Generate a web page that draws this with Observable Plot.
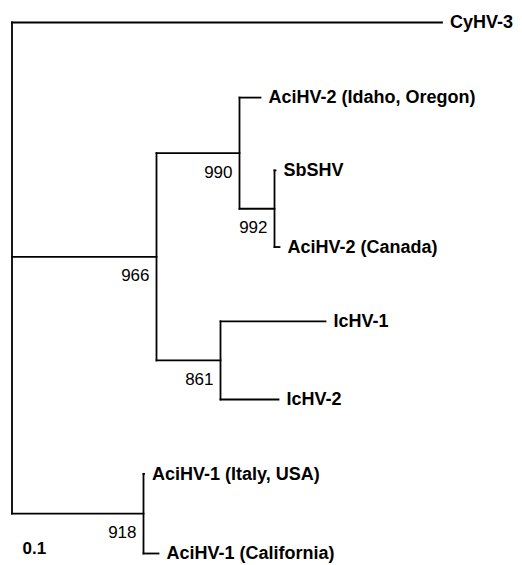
<!DOCTYPE html>
<html>
<head>
<meta charset="utf-8">
<script src="https://cdn.jsdelivr.net/npm/d3@7"></script>
<script src="https://cdn.jsdelivr.net/npm/@observablehq/plot@0.6"></script>
<style>
  html, body { margin: 0; padding: 0; background: #fff; }
  #chart svg { display: block; }
</style>
</head>
<body>
<div id="chart"></div>
<script>
// Tree nodes (internal nodes named by their support value)
const nodeNames = ["root", "CyHV-3", "n966", "n990", "AciHV-2 (Idaho, Oregon)", "n992", "SbSHV", "AciHV-2 (Canada)", "n861", "IcHV-1", "IcHV-2", "n918", "AciHV-1 (Italy, USA)", "AciHV-1 (California)"];
const parentNames = [null, "root", "root", "n966", "n990", "n990", "n992", "n992", "n966", "n861", "n861", "root", "n918", "n918"];
const branchLengths = [0, 0.860, 0.289, 0.166, 0.042, 0.070, 0.002, 0.010, 0.128, 0.210, 0.116, 0.263, 0.001, 0.030];
// leaf vertical positions (row units)
const leafNames = ["CyHV-3", "AciHV-2 (Idaho, Oregon)", "SbSHV", "AciHV-2 (Canada)", "IcHV-1", "IcHV-2", "AciHV-1 (Italy, USA)", "AciHV-1 (California)"];
const leafRows = [0, 0.99, 1.95, 2.96, 3.94, 4.97, 5.95, 7.0];
// bootstrap support
const supportNodes = ["n966", "n990", "n992", "n861", "n918"];
const supportValues = ["966", "990", "992", "861", "918"];
const scaleLabel = "0.1";

// build tree
const byName = new Map();
nodeNames.forEach((n, i) => byName.set(n, {name: n, parent: parentNames[i], len: branchLengths[i], children: []}));
byName.forEach(n => { if (n.parent) byName.get(n.parent).children.push(n); });
leafNames.forEach((n, i) => byName.get(n).row = leafRows[i]);
const root = byName.get("root");
(function setX(n, x) { n.x = x + n.len; n.children.forEach(c => setX(c, n.x)); })(root, 0);
(function setY(n) {
  if (n.children.length) {
    n.children.forEach(setY);
    const ys = n.children.map(c => c.row);
    n.minRow = d3.min(ys); n.maxRow = d3.max(ys);
    n.row = (n.children[0].row + n.children[n.children.length - 1].row) / 2;
  }
})(root);

const all = Array.from(byName.values());
const horiz = all.filter(n => n.parent).map(n => ({x1: byName.get(n.parent).x, x2: n.x, y: n.row}));
const vert = all.filter(n => n.children.length).map(n => ({x: n.x, y1: n.minRow, y2: n.maxRow}));
const leaves = leafNames.map(n => byName.get(n));
const supports = supportNodes.map((n, i) => ({x: byName.get(n).x, y: byName.get(n).row, t: supportValues[i]}));

const font = "Liberation Sans, Arial, Helvetica, sans-serif";

const chart = Plot.plot({
  width: 522,
  height: 565,
  margin: 0,
  style: {fontFamily: font, background: "#fff"},
  x: {domain: [0, 1], range: [11.5, 511.5], axis: null},
  y: {domain: [0, 7], range: [22, 553], axis: null},
  marks: [
    Plot.link(horiz, {x1: "x1", x2: "x2", y1: "y", y2: "y", stroke: "#000", strokeWidth: 1.8, strokeLinecap: "square"}),
    Plot.link(vert, {x1: "x", x2: "x", y1: "y1", y2: "y2", stroke: "#000", strokeWidth: 1.8, strokeLinecap: "square"}),
    Plot.text(leaves, {x: "x", y: "row", text: "name", textAnchor: "start", dx: 8, fontSize: 18, fontWeight: "bold", fill: "#000"}),
    Plot.text(supports, {x: "x", y: "y", text: "t", textAnchor: "end", dx: -7, dy: 19, fontSize: 17, fill: "#000"}),
    Plot.text([scaleLabel], {frameAnchor: "bottom-left", text: d => d, textAnchor: "start", dx: 22, dy: -12, fontSize: 17, fontWeight: "bold", fill: "#000"})
  ]
});
document.getElementById("chart").appendChild(chart);
</script>
</body>
</html>
